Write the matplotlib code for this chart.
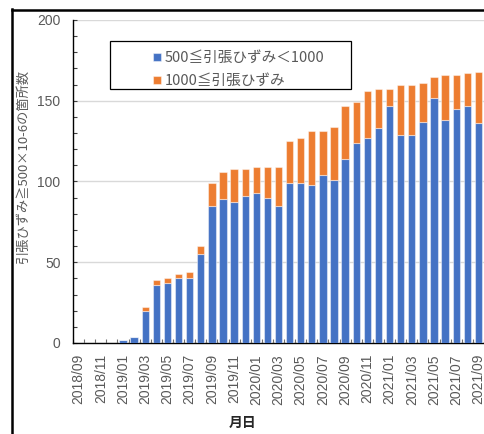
import matplotlib
matplotlib.use('Agg')
import matplotlib.pyplot as plt
from matplotlib.patches import Rectangle
from matplotlib.lines import Line2D
import numpy as np

# Data

months = ['2018/09', '2018/10', '2018/11', '2018/12',
          '2019/01', '2019/02', '2019/03', '2019/04', '2019/05', '2019/06',
          '2019/07', '2019/08', '2019/09', '2019/10', '2019/11', '2019/12',
          '2020/01', '2020/02', '2020/03', '2020/04', '2020/05', '2020/06',
          '2020/07', '2020/08', '2020/09', '2020/10', '2020/11', '2020/12',
          '2021/01', '2021/02', '2021/03', '2021/04', '2021/05', '2021/06',
          '2021/07', '2021/08', '2021/09']
mid = [0, 0, 0, 0, 2, 4, 20, 36, 37, 40, 40, 55, 85, 89, 87, 91, 93, 90, 85,
       99, 99, 98, 104, 101, 114, 124, 127, 133, 147, 129, 129, 137, 152, 138,
       145, 147, 136]
total = [0, 0, 0, 0, 2, 4, 22, 39, 40, 43, 44, 60, 99, 106, 108, 108, 109, 109,
         109, 125, 127, 131, 131, 134, 147, 149, 156, 157, 157, 160, 160, 161,
         165, 166, 166, 167, 168]
high = [t - m for t, m in zip(total, mid)]

label_mid = '500≦引張ひずみ＜1000'
label_high = '1000≦引張ひずみ'
ylabel = '引張ひずみ≧500×10-6の箇所数'
xlabel = '月日'

# Styles

CJK = ['Noto Sans CJK JP', 'DejaVu Sans']
NUM = ['Liberation Sans', 'DejaVu Sans']
BLUE = '#4472C4'
ORANGE = '#ED7D31'
GRAY = '#595959'

W, H = 484, 434
fig = plt.figure(figsize=(W / 100, H / 100), dpi=100)
ax = fig.add_axes([73 / W, 1 - 343 / H, (W - 73) / W, (343 - 20) / H])

x = np.arange(len(months))
ax.bar(x, mid, width=0.66, color=BLUE, edgecolor=(1, 1, 1, 0.45), linewidth=0.8,
       label=label_mid, zorder=3)
ax.bar(x, high, bottom=mid, width=0.66, color=ORANGE, edgecolor=(1, 1, 1, 0.45),
       linewidth=0.8, label=label_high, zorder=3)

ax.set_xlim(-0.5, len(months) - 0.5)
ax.set_ylim(0, 200)

# y axis
ax.set_yticks(range(0, 201, 50))
ax.set_yticks(range(0, 201, 10), minor=True)
ax.grid(axis='y', which='major', color='#D9D9D9', linewidth=1.0, zorder=0)
ax.tick_params(axis='y', which='both', direction='in', length=3, width=0.8,
               color='#404040', pad=9, labelsize=10, labelcolor=GRAY)

# x axis: labels every two months, ticks between categories
ax.set_xticks(x[::2])
ax.set_xticklabels(months[::2], rotation=90)
ax.set_xticks(np.arange(-0.5, len(months), 1), minor=True)
ax.tick_params(axis='x', which='major', length=0, pad=8, labelsize=10,
               labelcolor=GRAY)
ax.tick_params(axis='x', which='minor', direction='in', length=3, width=0.8,
               color='#707070')

for lab in ax.get_xticklabels() + ax.get_yticklabels():
    lab.set_family(NUM)

for s in ['top', 'right']:
    ax.spines[s].set_visible(False)
for s in ['left', 'bottom']:
    ax.spines[s].set_color('black')
    ax.spines[s].set_linewidth(1.0)

fig.text(23 / W, 1 - 167 / H, ylabel, rotation=90, ha='center', va='center',
         fontsize=9.5, color=GRAY, family=CJK)
fig.text(243 / W, 1 - 423 / H, xlabel, ha='center', va='center',
         fontsize=10, fontweight='bold', color='#262626', family=CJK)

# legend
leg = ax.legend(loc='upper left', bbox_to_anchor=(146 / W, 1 - 44 / H),
                bbox_transform=fig.transFigure, frameon=False, borderpad=0,
                handlelength=0.5, handleheight=0.5, handletextpad=0.3,
                labelspacing=0.6, prop={'family': CJK, 'size': 10.5})
for t in leg.get_texts():
    t.set_color(GRAY)
fig.add_artist(Rectangle((110 / W, 1 - 89 / H), (351 - 110) / W, 48 / H,
                         transform=fig.transFigure, fill=False,
                         edgecolor='black', linewidth=0.9))

# outer chart frame (cropped)
fig.add_artist(Line2D([11.5 / W, 11.5 / W], [0, 1 - 9 / H],
                      transform=fig.transFigure, color='black', linewidth=1.8))
fig.add_artist(Line2D([11.5 / W, 1], [1 - 9.5 / H, 1 - 9.5 / H],
                      transform=fig.transFigure, color='black', linewidth=1.8))

fig.savefig('out.png', dpi=100)
